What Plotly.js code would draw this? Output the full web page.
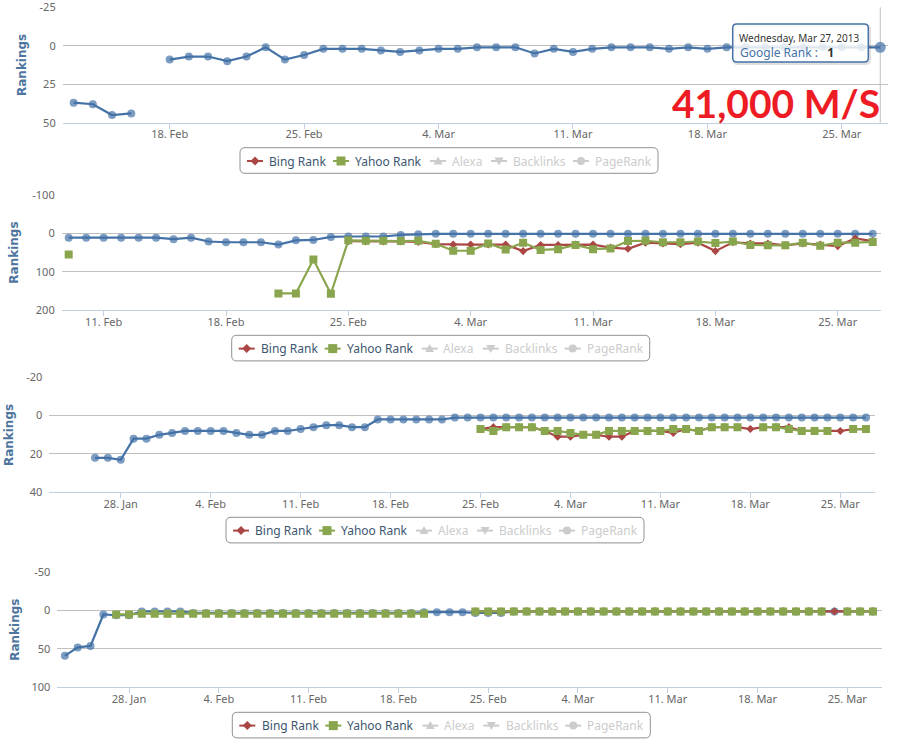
<!DOCTYPE html>
<html>
<head>
<meta charset="utf-8">
<script src="https://cdn.plot.ly/plotly-3.0.1.min.js"></script>
<style>
html,body{margin:0;padding:0;background:#fff;}
#chart{width:916px;height:749px;}
</style>
</head>
<body>
<div id="chart"></div>
<script>
// ---------------- DATA ----------------
// Panel 1 : daily dates from 13 Feb 2013 to 27 Mar 2013
const p1Start = '2013-02-13';
const p1Google = [37,38,45,44,null,9,7,7,10,7, 1,9,6,2,2,2,
                  3,4,3,2,2,1,1,1,5,2, 4,2,1,1,1,2,1,2,1,1, 1,1,1,1,1,1,1];

// Panel 2 : daily dates from 9 Feb 2013 to 27 Mar 2013
const p2Start = '2013-02-09';
const p2Google = [11,11,11,11,11,11,15,11,21,23, 23,23,29,18,17,9,8,8,8,4,
                  2,1,1,1,1,1,1,1,1,1, 1,1,1,1,1,1,1,1,1,1, 1,1,1,1,1,1,1];
const p2Bing   = [null,null,null,null,null,null,null,null,null,null, null,null,null,null,null,null,20,21,21,21,
                  22,28,29,29,29,29,46,30,30,29, 29,37,40,24,26,28,24,46,23,26, 26,31,26,29,33,13,20];
const p2Yahoo  = [55,null,null,null,null,null,null,null,null,null, null,null,156,156,68,157,18,19,19,20,
                  19,27,45,45,26,42,24,43,41,30, 41,39,20,19,23,23,21,25,21,30, 31,31,24,32,24,24,22];

// Panel 3 : daily dates from 26 Jan 2013 to 27 Mar 2013
const p3Start = '2013-01-26';
const p3Google = [22,22,23,12,12,10,
                  9,8,8,8,8,9,10,10,8,8, 7,6,5,5,6,6,2,2,2,2, 2,2,1,1,1,1,1,1,
                  1,1,1,1,1,1,1,1,1,1, 1,1,1,1,1,1,1,1,1,1, 1,1,1,1,1,1,1];
const p3Bing   = [null,null,null,null,null,null,
                  null,null,null,null,null,null,null,null,null,null, null,null,null,null,null,null,null,null,null,null, null,null,null,null,7,6,6,6,
                  6,8,11,11,10,10,11,11,8,8, 8,9,7,8,6,6,6,7,6,6, 6,8,8,8,8,7,7];
const p3Yahoo  = [null,null,null,null,null,null,
                  null,null,null,null,null,null,null,null,null,null, null,null,null,null,null,null,null,null,null,null, null,null,null,null,7,8,6,6,
                  6,8,8,9,10,10,8,8,8,8, 8,7,7,8,6,6,6,null,6,6, 7,8,8,8,null,7,7];

// Panel 4 : daily dates from 23 Jan 2013 to 27 Mar 2013
const p4Start = '2013-01-23';
const p4Google = [59,48,46,5,6,6,1,1,1,
                  1,3,3,3,3,3,3,3,3,3, 3,3,3,3,3,3,3,3,3,2, 2,2,2,3,3,3,1,1,
                  1,1,1,1,1,1,1,1,1,1, 1,1,1,1,1,1,1,1,1,1, 1,1,1,1,1,1,1];
const p4Bing   = [null,null,null,null,null,null,null,null,null,
                  null,null,null,null,null,null,null,null,null,null, null,null,null,null,null,null,null,null,null,null, null,null,null,1,1,1,1,1,
                  1,1,1,1,1,1,1,1,1,1, 1,1,1,1,1,1,1,1,1,1, 1,1,1,1,1,1,1];
const p4Yahoo  = [null,null,null,null,5,5,4,4,4,
                  4,4,4,4,4,4,4,4,4,4, 4,4,4,4,4,4,4,4,4,4, null,null,null,1,1,1,1,1,
                  1,1,1,1,1,1,1,1,1,1, 1,1,1,1,1,1,1,1,1,1, 1,1,1,null,1,1,1];

// Y-axis ticks
const p1YTicks = [-25, 0, 25, 50];
const p2YTicks = [-100, 0, 100, 200];
const p3YTicks = [-20, 0, 20, 40];
const p4YTicks = [-50, 0, 50, 100];

// Text
const yTitle = 'Rankings';
const legendNames = ['Bing Rank', 'Yahoo Rank', 'Alexa', 'Backlinks', 'PageRank'];
const googleName = 'Google Rank';
const tooltipDate = 'Wednesday, Mar 27, 2013';
const tooltipValue = '1';
const bigLabel = '41,000 M/S';

// ---------------- STYLE / LAYOUT ----------------
const W = 916, H = 749;
const X = p => p / W;
const Y = p => 1 - p / H;
const GOOGLE = '#4572A7', BING = '#AA4643', YAHOO = '#89A54E', HIDDEN = '#CCCCCC';
const FONT = 'Noto Sans, Lucida Grande, DejaVu Sans, sans-serif';

function dayList(start, n) {
  const t0 = Date.parse(start + 'T00:00:00Z');
  const out = [];
  for (let i = 0; i < n; i++) out.push(new Date(t0 + i * 864e5).toISOString().slice(0, 10));
  return out;
}

const panels = [
  {start: p1Start, google: p1Google, bing: null, yahoo: null, yt: p1YTicks,
   px: [62.7, 888], py: [7.3, 122.7], xr: ['2013-02-12 10:20', '2013-03-27 09:40'],
   title: [22, 65], legend: [240, 147.7]},
  {start: p2Start, google: p2Google, bing: p2Bing, yahoo: p2Yahoo, yt: p2YTicks,
   px: [61.7, 880.7], py: [195, 310.3], xr: ['2013-02-08 14:24', '2013-03-27 11:00'],
   title: [14, 252.7], legend: [231.7, 335.3]},
  {start: p3Start, google: p3Google, bing: p3Bing, yahoo: p3Yahoo, yt: p3YTicks,
   px: [49.3, 875], py: [377.3, 492.3], xr: ['2013-01-22 10:34', '2013-03-27 16:50'],
   title: [8.3, 434.8], legend: [226, 517.3]},
  {start: p4Start, google: p4Google, bing: p4Bing, yahoo: p4Yahoo, yt: p4YTicks,
   px: [57.3, 881.7], py: [572.3, 687.3], xr: ['2013-01-22 09:50', '2013-03-27 16:20'],
   title: [15, 629.8], legend: [232.3, 712.3]}
];

const traces = [];
const layout = {
  width: W, height: H,
  margin: {l: 0, r: 0, t: 0, b: 0, pad: 0},
  paper_bgcolor: '#fff', plot_bgcolor: '#fff',
  showlegend: false,
  font: {family: FONT, size: 11, color: '#666'},
  shapes: [], annotations: []
};

function rrect(x0, y0, x1, y1, r) {
  return 'M' + X(x0 + r) + ',' + Y(y0) +
    ' L' + X(x1 - r) + ',' + Y(y0) +
    ' Q' + X(x1) + ',' + Y(y0) + ' ' + X(x1) + ',' + Y(y0 + r) +
    ' L' + X(x1) + ',' + Y(y1 - r) +
    ' Q' + X(x1) + ',' + Y(y1) + ' ' + X(x1 - r) + ',' + Y(y1) +
    ' L' + X(x0 + r) + ',' + Y(y1) +
    ' Q' + X(x0) + ',' + Y(y1) + ' ' + X(x0) + ',' + Y(y1 - r) +
    ' L' + X(x0) + ',' + Y(y0 + r) +
    ' Q' + X(x0) + ',' + Y(y0) + ' ' + X(x0 + r) + ',' + Y(y0) + ' Z';
}
function poly(pts) {
  return 'M' + pts.map(p => X(p[0]) + ',' + Y(p[1])).join(' L') + ' Z';
}

panels.forEach((p, i) => {
  const sfx = i === 0 ? '' : String(i + 1);
  const xa = 'x' + sfx, ya = 'y' + sfx;
  const n = p.google.length;
  const dates = dayList(p.start, n);

  const gSize = p.google.map((v, k) => (i === 0 && k === n - 1) ? 11 : 8);
  traces.push({
    type: 'scatter', mode: 'lines+markers', name: googleName,
    x: dates, y: p.google, xaxis: xa, yaxis: ya, connectgaps: false,
    line: {color: GOOGLE, width: 2.2},
    marker: {symbol: 'circle', size: gSize, color: GOOGLE, line: {width: 0}},
    hoverinfo: 'skip'
  });
  if (p.bing) traces.push({
    type: 'scatter', mode: 'lines+markers', name: legendNames[0],
    x: dayList(p.start, p.bing.length), y: p.bing, xaxis: xa, yaxis: ya, connectgaps: false,
    line: {color: BING, width: 2.2},
    marker: {symbol: 'diamond', size: 6.2, color: BING, line: {width: 0}},
    hoverinfo: 'skip'
  });
  if (p.yahoo) traces.push({
    type: 'scatter', mode: 'lines+markers', name: legendNames[1],
    x: dayList(p.start, p.yahoo.length), y: p.yahoo, xaxis: xa, yaxis: ya, connectgaps: false,
    line: {color: YAHOO, width: 2.2},
    marker: {symbol: 'square', size: 8, color: YAHOO, line: {width: 0}},
    hoverinfo: 'skip'
  });

  layout['xaxis' + sfx] = {
    domain: [X(p.px[0]), X(p.px[1])], anchor: ya, type: 'date', range: p.xr,
    showgrid: false, zeroline: false,
    showline: true, linecolor: '#C0D0E0', linewidth: 1,
    ticks: 'outside', ticklen: 5, tickwidth: 1, tickcolor: '#C0D0E0',
    ticklabelstandoff: -4,
    tick0: '2013-01-28', dtick: 7 * 864e5, tickformat: '%-d. %b',
    tickfont: {family: FONT, size: 11, color: '#666'},
    fixedrange: true
  };
  layout['yaxis' + sfx] = {
    domain: [Y(p.py[1]), Y(p.py[0])], anchor: xa,
    range: [p.yt[p.yt.length - 1], p.yt[0]],
    tickmode: 'array', tickvals: p.yt, ticktext: p.yt.map(v => String(v)),
    showgrid: true, gridcolor: '#C0C0C0', gridwidth: 1, zeroline: false,
    showline: false, ticks: '', ticklabelstandoff: 6,
    ticklabeloverflow: 'allow',
    tickfont: {family: FONT, size: 11, color: '#666'},
    fixedrange: true
  };

  // y title
  layout.annotations.push({
    xref: 'paper', yref: 'paper', x: X(p.title[0]), y: Y(p.title[1]),
    xanchor: 'center', yanchor: 'middle', showarrow: false, textangle: -90,
    text: yTitle, font: {family: 'DejaVu Sans, sans-serif', size: 12, color: '#4D759E', weight: 'bold'}
  });

  // legend box (Highcharts-style, rounded)
  const L = p.legend[0], T = p.legend[1], cy = T + 13.3;
  layout.shapes.push({type: 'path', xref: 'paper', yref: 'paper', layer: 'above',
    path: rrect(L, T, L + 418, T + 25.6, 5), line: {color: '#909090', width: 1}, fillcolor: 'rgba(0,0,0,0)'});
  const symX = [7, 93, 190, 251, 333];
  const txtX = [28.3, 114, 210.7, 272.3, 354];
  const symCol = [BING, YAHOO, HIDDEN, HIDDEN, HIDDEN];
  const txtCol = ['#3E576F', '#3E576F', HIDDEN, HIDDEN, HIDDEN];
  legendNames.forEach((nm, k) => {
    const a = L + symX[k], cx = a + 8, c = symCol[k];
    layout.shapes.push({type: 'line', xref: 'paper', yref: 'paper', layer: 'above',
      x0: X(a), x1: X(a + 16), y0: Y(cy), y1: Y(cy), line: {color: c, width: 2}});
    let sh;
    if (k === 0) sh = {type: 'path', path: poly([[cx, cy - 4.5], [cx + 4.5, cy], [cx, cy + 4.5], [cx - 4.5, cy]])};
    else if (k === 1) sh = {type: 'rect', x0: X(cx - 4.5), x1: X(cx + 4.5), y0: Y(cy + 4.5), y1: Y(cy - 4.5)};
    else if (k === 2) sh = {type: 'path', path: poly([[cx, cy - 4.5], [cx + 4.5, cy + 3.5], [cx - 4.5, cy + 3.5]])};
    else if (k === 3) sh = {type: 'path', path: poly([[cx, cy + 4.5], [cx + 4.5, cy - 3.5], [cx - 4.5, cy - 3.5]])};
    else sh = {type: 'circle', x0: X(cx - 4), x1: X(cx + 4), y0: Y(cy + 4), y1: Y(cy - 4)};
    Object.assign(sh, {xref: 'paper', yref: 'paper', layer: 'above', fillcolor: c, line: {width: 0}});
    layout.shapes.push(sh);
    layout.annotations.push({
      xref: 'paper', yref: 'paper', x: X(L + txtX[k] - 1), y: Y(cy),
      xanchor: 'left', yanchor: 'middle', showarrow: false,
      text: nm, font: {family: FONT, size: 12, color: txtCol[k]}
    });
  });
});

// crosshair at the hovered point (panel 1)
layout.shapes.push({type: 'line', xref: 'x', yref: 'paper', layer: 'below',
  x0: '2013-03-27', x1: '2013-03-27', y0: Y(122.7), y1: Y(7.3), line: {color: '#C0C0C0', width: 1}});

// tooltip
layout.shapes.push({type: 'path', xref: 'paper', yref: 'paper', layer: 'above',
  path: rrect(734, 25.5, 869.5, 63.5, 4), line: {color: 'rgba(0,0,0,0.12)', width: 3}, fillcolor: 'rgba(0,0,0,0)'});
layout.shapes.push({type: 'path', xref: 'paper', yref: 'paper', layer: 'above',
  path: rrect(732.7, 24, 868.3, 62, 4), line: {color: GOOGLE, width: 1.5}, fillcolor: 'rgba(255,255,255,0.82)'});
layout.annotations.push({
  xref: 'paper', yref: 'paper', x: X(736.5), y: Y(38.3), xanchor: 'left', yanchor: 'middle',
  showarrow: false, text: tooltipDate, font: {family: FONT, size: 10, color: '#333'}
});
layout.annotations.push({
  xref: 'paper', yref: 'paper', x: X(737.5), y: Y(52.3), xanchor: 'left', yanchor: 'middle',
  showarrow: false,
  text: '<span style="color:' + GOOGLE + '">' + googleName + ' :</span>\u00a0\u00a0 <b>' + tooltipValue + '</b>',
  font: {family: FONT, size: 12, color: '#333'}
});

// big red label
layout.annotations.push({
  xref: 'paper', yref: 'paper', x: X(775.5), y: Y(103), xanchor: 'center', yanchor: 'middle',
  showarrow: false, text: bigLabel,
  font: {family: 'Lato, Open Sans, sans-serif', size: 39, color: '#ED1C24', weight: 'bold'}
});

Plotly.newPlot('chart', traces, layout, {displayModeBar: false, staticPlot: true, responsive: false});
</script>
</body>
</html>
